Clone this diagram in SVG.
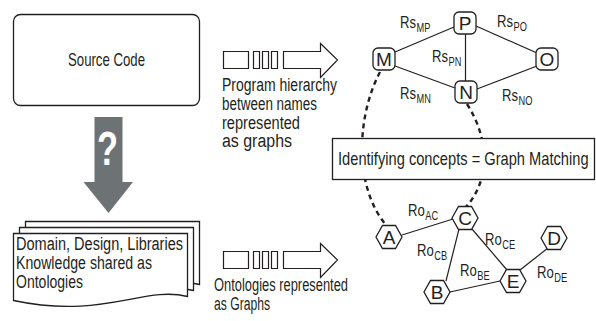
<svg xmlns="http://www.w3.org/2000/svg" width="596" height="321" viewBox="0 0 596 321">
<style>
text{font-family:"Liberation Sans Narrow","Liberation Sans",Arial,sans-serif;fill:#231f20}
.ln{stroke:#231f20;stroke-width:1.2;fill:none}
.nd{stroke:#231f20;stroke-width:1.3;fill:#fff}
.t{font-size:18px}
.lbl{font-size:17px}
.sub{font-size:12px}
.nt{font-size:19px;text-anchor:middle}
.dash{stroke:#231f20;stroke-width:2.4;fill:none;stroke-dasharray:5 4}
</style>
<defs>
<path id="doc" d="M0,0 H174 V63 C130,52 90,86 0,67 Z"/>
<path id="sarrow" d="M0,0 H25 V17 H0 Z M30,0 H36 V17 H30 Z M39,0 H45 V17 H39 Z M48,0 H54 V17 H48 Z M60,0 H97 V-8 L114,8.5 L97,26 V17 H60 Z"/>
</defs>

<g id="source-code">
<rect x="13.5" y="14.5" width="186" height="91" rx="7" class="nd"/>
<text x="68" y="66" style="font-size:19px" textLength="77" lengthAdjust="spacingAndGlyphs">Source Code</text>
</g>

<g id="question-arrow">
<polygon points="94.5,117 122.5,117 122.5,182 133,182 108.5,213 83.5,182 94.5,182" fill="#6d7275"/>
<text x="97" y="165" style="font-size:48px;font-weight:bold;fill:#fff" textLength="21" lengthAdjust="spacingAndGlyphs">?</text>
</g>

<g id="ontology-docs">
<use href="#doc" x="25.5" y="221.5" class="nd"/>
<use href="#doc" x="19.5" y="227.5" class="nd"/>
<use href="#doc" x="13.5" y="233.5" class="nd"/>
<text x="16" y="250" class="t" textLength="167" lengthAdjust="spacingAndGlyphs">Domain, Design, Libraries</text>
<text x="16" y="269" class="t" textLength="136" lengthAdjust="spacingAndGlyphs">Knowledge shared as</text>
<text x="16" y="288" class="t" textLength="67" lengthAdjust="spacingAndGlyphs">Ontologies</text>
</g>

<g id="program-arrow">
<use href="#sarrow" x="223.5" y="51.5" class="ln"/>
<text x="222" y="91" class="t" textLength="115" lengthAdjust="spacingAndGlyphs">Program hierarchy</text>
<text x="222" y="110" class="t" textLength="95" lengthAdjust="spacingAndGlyphs">between names</text>
<text x="222" y="128.5" class="t" textLength="78" lengthAdjust="spacingAndGlyphs">represented</text>
<text x="222" y="147" class="t" textLength="70" lengthAdjust="spacingAndGlyphs">as graphs</text>
</g>

<g id="ontology-arrow">
<use href="#sarrow" x="223.5" y="251.5" class="ln"/>
<text x="214" y="291" class="t" textLength="134" lengthAdjust="spacingAndGlyphs">Ontologies represented</text>
<text x="214" y="310" class="t" textLength="56" lengthAdjust="spacingAndGlyphs">as Graphs</text>
</g>

<g id="connectors">
<path class="dash" d="M380,72 C355,120 355,190 387,226"/>
<path class="dash" d="M467,104 C490,140 490,180 466,207"/>
<line class="ln" x1="395" y1="52" x2="454" y2="27"/>
<line class="ln" x1="395" y1="66" x2="455" y2="88"/>
<line class="ln" x1="465.5" y1="33" x2="465.5" y2="81"/>
<line class="ln" x1="476" y1="26" x2="537" y2="53"/>
<line class="ln" x1="477" y1="89" x2="537" y2="66"/>
<line class="ln" x1="402" y1="235" x2="453" y2="219"/>
<line class="ln" x1="459" y1="229" x2="446" y2="281"/>
<line class="ln" x1="472" y1="229" x2="507" y2="270"/>
<line class="ln" x1="450" y1="292" x2="500" y2="281"/>
<line class="ln" x1="520" y1="270" x2="548" y2="248"/>
</g>

<g id="edge-labels">
<g transform="translate(400,28) scale(0.77,1)"><text class="lbl">Rs</text><text x="21.5" y="4" class="sub">MP</text></g>
<g transform="translate(497,27) scale(0.77,1)"><text class="lbl">Rs</text><text x="21.5" y="4" class="sub">PO</text></g>
<g transform="translate(432,62) scale(0.77,1)"><text class="lbl">Rs</text><text x="21.5" y="4" class="sub">PN</text></g>
<g transform="translate(400,99) scale(0.77,1)"><text class="lbl">Rs</text><text x="21.5" y="4" class="sub">MN</text></g>
<g transform="translate(502,101) scale(0.77,1)"><text class="lbl">Rs</text><text x="21.5" y="4" class="sub">NO</text></g>
<g transform="translate(408,216) scale(0.77,1)"><text class="lbl">Ro</text><text x="22.5" y="4" class="sub">AC</text></g>
<g transform="translate(417,256) scale(0.77,1)"><text class="lbl">Ro</text><text x="22.5" y="4" class="sub">CB</text></g>
<g transform="translate(485,245) scale(0.77,1)"><text class="lbl">Ro</text><text x="22.5" y="4" class="sub">CE</text></g>
<g transform="translate(460,276) scale(0.77,1)"><text class="lbl">Ro</text><text x="22.5" y="4" class="sub">BE</text></g>
<g transform="translate(537,278) scale(0.77,1)"><text class="lbl">Ro</text><text x="22.5" y="4" class="sub">DE</text></g>
</g>

<g id="node-M"><rect x="373" y="48" width="22" height="22" rx="5" class="nd"/><text x="384" y="66" class="nt">M</text></g>
<g id="node-P"><rect x="454" y="12" width="22" height="22" rx="5" class="nd"/><text x="465" y="30" class="nt">P</text></g>
<g id="node-N"><rect x="455" y="81" width="22" height="22" rx="5" class="nd"/><text x="466" y="99" class="nt">N</text></g>
<g id="node-O"><rect x="536" y="48" width="22" height="22" rx="5" class="nd"/><text x="547" y="66" class="nt">O</text></g>

<g id="matching-box">
<rect x="332.5" y="138.5" width="262" height="41" fill="#fff" stroke="#231f20" stroke-width="1.3"/>
<text transform="translate(338,165) scale(0.815,1)" x="0" y="0" class="t">Identifying concepts = Graph Matching</text>
</g>

<g id="node-A"><polygon class="nd" points="376,237 382.5,225.5 395.5,225.5 402,237 395.5,248.5 382.5,248.5"/><text x="389" y="243.5" class="nt">A</text></g>
<g id="node-C"><polygon class="nd" points="452,218 458.5,206.5 471.5,206.5 478,218 471.5,229.5 458.5,229.5"/><text x="465" y="224.5" class="nt">C</text></g>
<g id="node-D"><polygon class="nd" points="541,238 547.5,226.5 560.5,226.5 567,238 560.5,249.5 547.5,249.5"/><text x="554" y="244.5" class="nt">D</text></g>
<g id="node-B"><polygon class="nd" points="424,292 430.5,280.5 443.5,280.5 450,292 443.5,303.5 430.5,303.5"/><text x="437" y="298.5" class="nt">B</text></g>
<g id="node-E"><polygon class="nd" points="500,281 506.5,269.5 519.5,269.5 526,281 519.5,292.5 506.5,292.5"/><text x="513" y="287.5" class="nt">E</text></g>
</svg>
